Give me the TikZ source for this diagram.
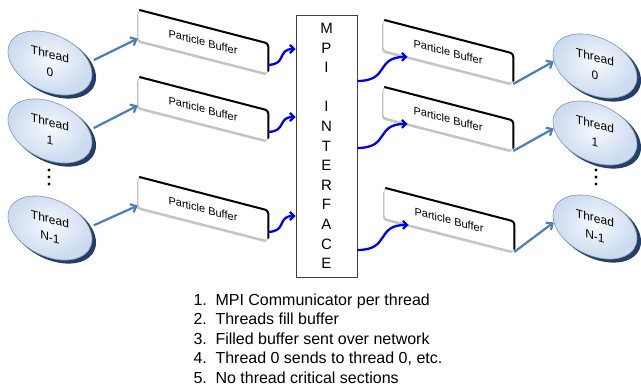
\documentclass[tikz,border=0pt]{standalone}
\usepackage{fontspec}
\setmainfont{Liberation Sans}
\usetikzlibrary{shapes.geometric,arrows.meta,shadows,calc}
\definecolor{rim}{HTML}{233F66}
\definecolor{tcore}{HTML}{F6F9FD}
\definecolor{tedge}{HTML}{CCDBF0}
\definecolor{steel}{HTML}{4A7EBB}
\definecolor{wire}{HTML}{0000F0}
% a thread: dark rim behind a shaded, perspective-tilted disc
\newcommand\threadnode[4]{%
  \begin{scope}[shift={(#2,#3)}]
    \fill[threadrim] (0,0) ellipse [x radius=42.5pt, y radius=30.5pt];
    \node[thread] (#1) at (0,0) {#4};
  \end{scope}}
\begin{document}
\begin{tikzpicture}[x=1pt,y=-1pt,
  thread/.style={ellipse, yslant=-0.27, transform shape, minimum width=84pt, minimum height=60pt, inner sep=0pt,
     draw=rim!55, line width=0.6pt, inner color=tcore, outer color=tedge,
     align=center, font=\fontsize{12}{18}\selectfont},
  threadrim/.style={rim, xshift=3.5pt, yshift=-3pt, yslant=-0.27},
  buffer/.style={rectangle, rounded corners=3pt, draw=gray!55, fill=white, line width=0.5pt,
     minimum width=130pt, minimum height=30pt, inner sep=0pt, yslant=-0.256, transform shape,
     drop shadow={shadow xshift=-1pt, shadow yshift=-2pt, fill=black!45, opacity=0.5},
     font=\fontsize{11}{13}\selectfont},
  bufrim/.style={line width=2pt, rounded corners=3pt, line cap=round},
  feed/.style={steel, line width=2.2pt, shorten <=5pt, -{Straight Barb[length=5pt,width=9pt]}},
  hop/.style={wire, line width=2.3pt, -{Straight Barb[length=4pt,width=8pt]}, out=0, in=180, looseness=1.5},
  item/.style={anchor=base west, font=\fontsize{16}{19}\selectfont}
]
\useasboundingbox[fill=white] (0,0) rectangle (641,389);

% threads on the sending side
\threadnode{l0}{50}{63}{Thread\\0}
\threadnode{l1}{50}{131}{Thread\\1}
\threadnode{l2}{50}{228}{Thread\\N-1}
% threads on the receiving side
\threadnode{r0}{595}{66}{Thread\\0}
\threadnode{r1}{595}{133}{Thread\\1}
\threadnode{r2}{595}{227}{Thread\\N-1}

% continuation dots
\foreach \yy in {170,177,184} {
  \fill (49,\yy) circle (1.7pt);
  \fill (596,\yy) circle (1.7pt);
}

% particle buffers
\begin{scope}[shift={(203,42)}]  \node[buffer] (lb1) at (0,0) {\raisebox{-3pt}{Particle Buffer}}; \end{scope}
\begin{scope}[shift={(203,109)}] \node[buffer] (lb2) at (0,0) {\raisebox{-3pt}{Particle Buffer}}; \end{scope}
\begin{scope}[shift={(203,209)}] \node[buffer] (lb3) at (0,0) {\raisebox{-3pt}{Particle Buffer}}; \end{scope}
\begin{scope}[shift={(448,52)}]  \node[buffer] (rb1) at (0,0) {\raisebox{-3pt}{Particle Buffer}}; \end{scope}
\begin{scope}[shift={(448,119)}] \node[buffer] (rb2) at (0,0) {\raisebox{-3pt}{Particle Buffer}}; \end{scope}
\begin{scope}[shift={(449,220)}] \node[buffer] (rb3) at (0,0) {\raisebox{-3pt}{Particle Buffer}}; \end{scope}
\foreach \b in {lb1,lb2,lb3,rb1,rb2,rb3}
  \draw[bufrim] ([xshift=2pt]\b.north west) -- (\b.north east) -- ([yshift=3pt]\b.south east);

% the MPI interface
\node[draw=black!75, line width=0.8pt, minimum width=61pt, minimum height=262pt, inner sep=0pt,
      align=center, font=\fontsize{15}{19.6}\selectfont] (mpi) at (326.5,146)
  {M\\P\\I\\\mbox{}\\I\\N\\T\\E\\R\\F\\A\\C\\E};

% threads fill their buffers
\draw[feed] (l0.16) -- ([yshift=2pt]lb1.south west);
\draw[feed] (l1.16) -- ([yshift=2pt]lb2.south west);
\draw[feed] (l2.16) -- ([yshift=2pt]lb3.south west);
% buffers handed to the receiving threads
\draw[feed, shorten <=0pt] (rb1.south east) -- (r0.189);
\draw[feed, shorten <=0pt] (rb2.south east) -- (r1.189);
\draw[feed, shorten <=0pt] (rb3.south east) -- (r2.189);

% buffers sent through MPI
\draw[hop] ($(lb1.east)!0.4!(lb1.south east)$) to (mpi.west |- 0,49);
\draw[hop] ($(lb2.east)!0.4!(lb2.south east)$) to (mpi.west |- 0,117);
\draw[hop] ($(lb3.east)!0.4!(lb3.south east)$) to (mpi.west |- 0,216);
\draw[hop] (mpi.east |- 0,81)  to ($(rb1.south west)!0.19!(rb1.south east)$);
\draw[hop] (mpi.east |- 0,148) to ($(rb2.south west)!0.19!(rb2.south east)$);
\draw[hop] (mpi.east |- 0,250) to ($(rb3.south west)!0.19!(rb3.south east)$);

% notes
\node[item] (n1) at (190,305.5) {\makebox[22pt][l]{1.}MPI Communicator per thread};
\node[item] (n2) at (190,324.9) {\makebox[22pt][l]{2.}Threads fill buffer};
\node[item] (n3) at (190,344.3) {\makebox[22pt][l]{3.}Filled buffer sent over network};
\node[item] (n4) at (190,363.7) {\makebox[22pt][l]{4.}Thread 0 sends to thread 0, etc.};
\node[item] (n5) at (190,383.1) {\makebox[22pt][l]{5.}No thread critical sections};
\end{tikzpicture}
\end{document}
